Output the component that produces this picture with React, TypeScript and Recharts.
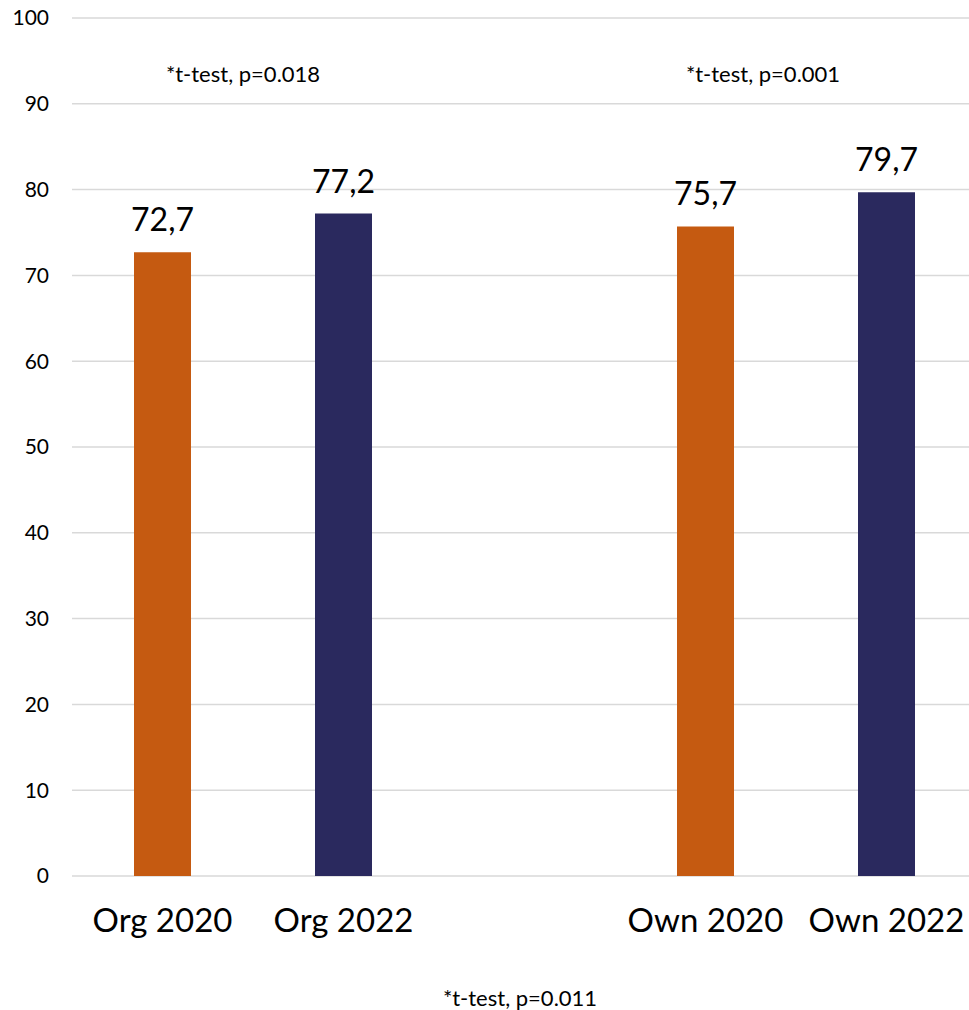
import { BarChart, Bar, XAxis, YAxis, CartesianGrid, LabelList, Cell } from 'recharts'

const categories = ['Org 2020', 'Org 2022', '', 'Own 2020', 'Own 2022']
const scores: (number | null)[] = [72.7, 77.2, null, 75.7, 79.7]
const yTicks = [0, 10, 20, 30, 40, 50, 60, 70, 80, 90, 100]
const notes = ['*t-test, p=0.018', '*t-test, p=0.001', '*t-test, p=0.011']

const ORANGE = '#C55A11'
const NAVY = '#2A295E'
const FONT = 'Lato, "Open Sans", sans-serif'

const data = categories.map((name, i) => ({ name, value: scores[i] }))

const fmt = (v: unknown) => (typeof v === 'number' ? v.toFixed(1).replace('.', ',') : '')

const noteStyle = {
  position: 'absolute' as const,
  transform: 'translate(-50%, -50%)',
  fontSize: 22,
  whiteSpace: 'nowrap' as const,
}

const App = () => {
  return (
    <div
      style={{
        position: 'absolute',
        left: 0,
        top: 0,
        width: 969,
        height: 1010,
        overflow: 'hidden',
        background: '#fff',
        fontFamily: FONT,
      }}
    >
      <BarChart
        width={977}
        height={960}
        data={data}
        margin={{ top: 18, right: 0, left: 0, bottom: 0 }}
      >
        <CartesianGrid vertical={false} stroke="#d9d9d9" strokeWidth={1.5} />
        <XAxis
          dataKey="name"
          axisLine={false}
          tickLine={false}
          tickSize={0}
          tickMargin={33}
          height={84}
          interval={0}
          tick={{ fontSize: 33, fill: '#000', fontFamily: FONT }}
        />
        <YAxis
          domain={[0, 100]}
          ticks={yTicks}
          width={72}
          axisLine={false}
          tickLine={false}
          tickSize={0}
          tickMargin={23}
          tick={{ fontSize: 21, fill: '#000', fontFamily: FONT }}
        />
        <Bar dataKey="value" barSize={57} isAnimationActive={false}>
          {data.map((d, i) => (
            <Cell key={d.name + i} fill={i % 3 === 0 ? ORANGE : NAVY} />
          ))}
          <LabelList
            dataKey="value"
            position="top"
            offset={21}
            formatter={fmt}
            style={{ fontSize: 32, fill: '#000', fontFamily: FONT }}
          />
        </Bar>
      </BarChart>
      <div style={{ ...noteStyle, left: 243, top: 73 }}>{notes[0]}</div>
      <div style={{ ...noteStyle, left: 763, top: 73 }}>{notes[1]}</div>
      <div style={{ ...noteStyle, left: 520, top: 997 }}>{notes[2]}</div>
    </div>
  )
}

export default App
